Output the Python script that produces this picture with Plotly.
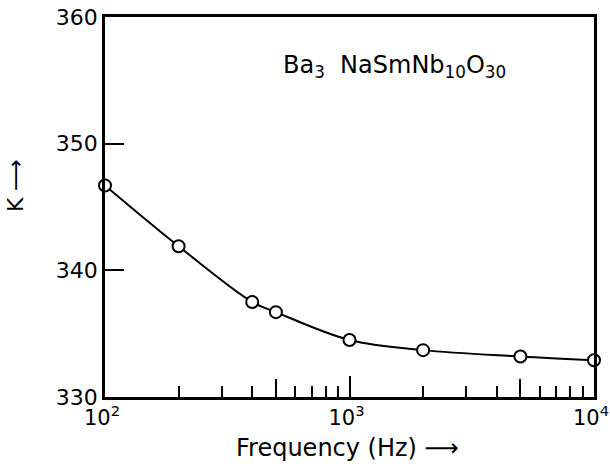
import plotly.graph_objects as go

freq = [100, 200, 400, 500, 1000, 2000, 5000, 10000]
K = [346.7, 341.9, 337.5, 336.7, 334.5, 333.7, 333.2, 332.9]

y_ticks = [330, 340, 350, 360]
x_major = [100, 1000, 10000]
x_major_text = ["10<sup>2</sup>", "10<sup>3</sup>", "10<sup>4</sup>"]
x_minor = [200, 300, 400, 600, 700, 800, 900, 2000, 3000, 4000, 6000, 7000, 8000, 9000]
x_mid = [500, 5000]

FONT = "DejaVu Sans"

fig = go.Figure()
fig.add_trace(go.Scatter(
    x=freq, y=K, mode="lines+markers",
    line=dict(color="black", width=2, shape="spline", smoothing=1.0),
    marker=dict(symbol="circle", size=12, color="white", line=dict(color="black", width=2)),
    showlegend=False, cliponaxis=False,
))
# invisible trace on secondary x axis for the mid-decade ticks
fig.add_trace(go.Scatter(x=[100, 10000], y=[330, 330], xaxis="x2", mode="markers",
                         marker=dict(opacity=0), showlegend=False, hoverinfo="skip"))

XR = [1.99999, 4.00001]
fig.update_layout(
    width=610, height=467,
    margin=dict(l=105, r=16, t=17, b=70, autoexpand=False),
    paper_bgcolor="white", plot_bgcolor="white",
    font=dict(family=FONT, color="black", size=22),
    xaxis=dict(
        type="log", range=XR,
        showline=True, linecolor="black", linewidth=2.5, mirror=True,
        showgrid=False, zeroline=False,
        tickvals=x_major, ticktext=x_major_text,
        ticks="inside", ticklen=21, tickwidth=2, tickcolor="black",
        minor=dict(tickvals=x_minor, ticks="inside", ticklen=11, tickwidth=2, tickcolor="black", showgrid=False),
        tickfont=dict(size=21, family=FONT),
        ticklabeloverflow="allow",
        ticklabelshift=-3,
        automargin=False,
    ),
    xaxis2=dict(
        type="log", range=XR, overlaying="x", side="bottom",
        showline=False, showgrid=False, zeroline=False,
        tickvals=x_mid, showticklabels=False,
        ticks="inside", ticklen=18, tickwidth=2, tickcolor="black",
    ),
    yaxis=dict(
        range=[330, 360],
        showline=True, linecolor="black", linewidth=2.5, mirror=True,
        showgrid=False, zeroline=False,
        tickvals=y_ticks,
        ticks="inside", ticklen=19, tickwidth=2, tickcolor="black",
        tickfont=dict(size=22, family=FONT),
        automargin=False,
    ),
    annotations=[
        dict(text="Ba<sub>3</sub>  NaSmNb<sub>10</sub>O<sub>30</sub>",
             xref="paper", yref="paper", x=0.36, y=0.87, xanchor="left", yanchor="middle",
             showarrow=False, font=dict(size=24, family=FONT)),
        dict(text="Frequency (Hz) ⟶", xref="paper", yref="paper",
             x=0.495, y=-0.134, xanchor="center", yanchor="middle",
             showarrow=False, font=dict(size=24, family=FONT)),
        dict(text="K ⟶", xref="paper", yref="paper", textangle=-90,
             x=-0.184, y=0.555, xanchor="center", yanchor="middle",
             showarrow=False, font=dict(size=22, family=FONT)),
    ],
)

fig.write_html("out.html")
